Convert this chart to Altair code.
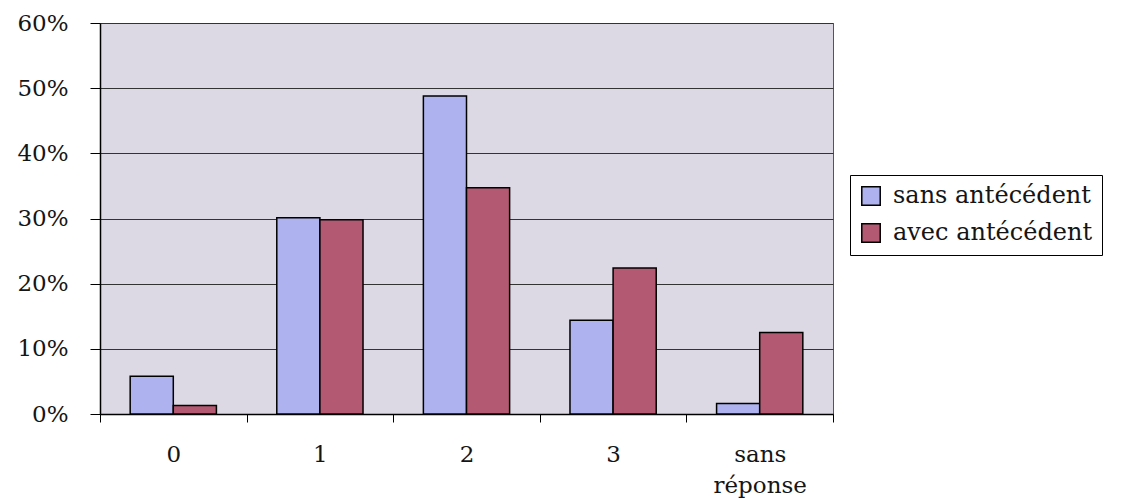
import altair as alt
import pandas as pd

# Grouped bar chart: share of answers by category, with / without history
categories = ["0", "1", "2", "3", "sans réponse"]
series_names = ["sans antécédent", "avec antécédent"]
sans_antecedent = [5.8, 30.1, 48.8, 14.4, 1.6]
avec_antecedent = [1.3, 29.8, 34.7, 22.4, 12.5]
y_ticks = [0, 10, 20, 30, 40, 50, 60]
bar_colors = ["#aeb3ef", "#b35a72"]

rows = []
for cat, a, b in zip(categories, sans_antecedent, avec_antecedent):
    rows.append({"categorie": cat, "serie": series_names[0], "valeur": a})
    rows.append({"categorie": cat, "serie": series_names[1], "valeur": b})
df = pd.DataFrame(rows)

FONT = "DejaVu Serif"
TXT = "#151515"

bars = alt.Chart(df).mark_bar(stroke="black", strokeWidth=1.5).encode(
    x=alt.X(
        "categorie:N",
        sort=categories,
        scale=alt.Scale(paddingInner=0, paddingOuter=0),
        axis=alt.Axis(
            title=None,
            labelAngle=0,
            labelFont=FONT,
            labelFontSize=23,
            labelColor=TXT,
            labelPadding=21,
            labelBaseline="top",
            labelLineHeight=31,
            labelExpr="split(datum.label, ' ')",
            tickBand="extent",
            tickSize=8,
            tickColor="black",
            tickWidth=1,
            domainColor="black",
            domainWidth=1.5,
            grid=False,
        ),
    ),
    xOffset=alt.XOffset(
        "serie:N",
        sort=series_names,
        scale=alt.Scale(paddingInner=0, paddingOuter=0.7),
    ),
    y=alt.Y(
        "valeur:Q",
        scale=alt.Scale(domain=[0, 60], nice=False),
        axis=alt.Axis(
            title=None,
            values=y_ticks,
            labelExpr="datum.value + '%'",
            labelFont=FONT,
            labelFontSize=23,
            labelColor=TXT,
            labelPadding=22,
            tickSize=10,
            tickColor="black",
            tickWidth=1,
            domainColor="black",
            domainWidth=1.5,
            grid=True,
            gridColor="#333333",
            gridWidth=1,
        ),
    ),
    color=alt.Color(
        "serie:N",
        sort=series_names,
        scale=alt.Scale(domain=series_names, range=bar_colors),
        legend=alt.Legend(
            title=None,
            orient="none",
            legendX=750,
            legendY=152,
            symbolType="square",
            symbolSize=340,
            symbolStrokeColor="black",
            symbolStrokeWidth=1.5,
            symbolOpacity=1,
            labelFont=FONT,
            labelFontSize=24,
            labelColor=TXT,
            labelOffset=10,
            labelLimit=400,
            rowPadding=11,
            padding=9,
            strokeColor="black",
            fillColor="white",
        ),
    ),
)

chart = bars.properties(
    width=733,
    height=391,
    autosize=alt.AutoSizeParams(type="none"),
    padding={"left": 100, "top": 23, "right": 290, "bottom": 87},
    background="white",
).configure_view(
    fill="#dcd8e4",
    stroke="#555555",
    strokeWidth=1,
)

chart.save("out.html", embed_options={"renderer": "svg", "actions": False})
